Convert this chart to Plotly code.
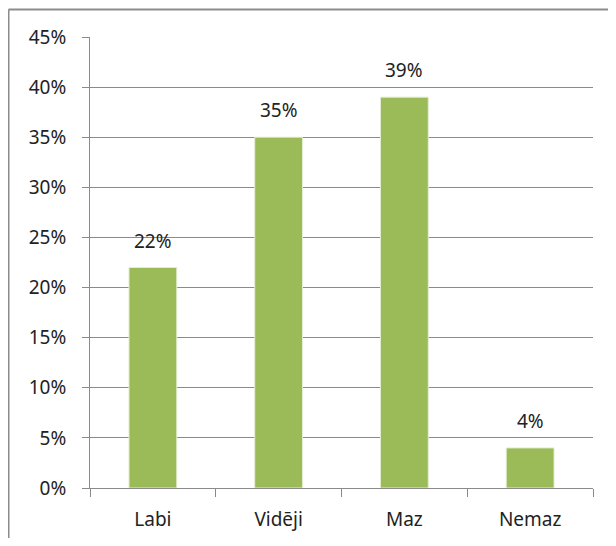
import plotly.graph_objects as go

categories = ["Labi", "Vidēji", "Maz", "Nemaz"]
values = [0.22, 0.35, 0.39, 0.04]
y_ticks = [0, 0.05, 0.10, 0.15, 0.20, 0.25, 0.30, 0.35, 0.40, 0.45]
y_labels = ["0%", "5%", "10%", "15%", "20%", "25%", "30%", "35%", "40%", "45%"]

font = "Noto Sans, DejaVu Sans, sans-serif"

fig = go.Figure(go.Bar(
    x=categories, y=values,
    marker=dict(color="#9BBB59", line=dict(color="#E4EDD2", width=1)),
    width=0.38,
))

# value labels over bars
for c, v in zip(categories, values):
    fig.add_annotation(x=c, y=v, text=f"{round(v * 100)}%", showarrow=False,
                       yanchor="bottom", yshift=12,
                       font=dict(family=font, size=19, color="#222"))

# outer chart frame (top and left edges visible in the crop)
fig.add_shape(type="line", xref="paper", yref="paper",
              x0=-0.162, x1=1.1, y0=1.061, y1=1.061,
              line=dict(color="#8c8c8c", width=2))
fig.add_shape(type="line", xref="paper", yref="paper",
              x0=-0.162, x1=-0.162, y0=1.061, y1=-0.2,
              line=dict(color="#8c8c8c", width=2))

# page body has an 8px margin, so the figure is sized to sit inside the window
fig.update_layout(
    width=600, height=530,
    margin=dict(l=82, r=15, t=29, b=50),
    paper_bgcolor="white", plot_bgcolor="white",
    showlegend=False,
    font=dict(family=font, size=19, color="#222"),
    bargap=0.62,
)
fig.update_yaxes(
    range=[0, 0.45], tickvals=y_ticks, ticktext=y_labels,
    showgrid=True, gridcolor="#8a8a8a", gridwidth=1,
    showline=True, linecolor="#8a8a8a", linewidth=1,
    ticks="outside", ticklen=7, tickcolor="#8a8a8a",
    ticklabelstandoff=12, zeroline=False, automargin=False,
)
fig.update_xaxes(
    showline=True, linecolor="#8a8a8a", linewidth=1,
    ticks="outside", tickson="boundaries", ticklen=8, tickcolor="#8a8a8a",
    ticklabelstandoff=14, automargin=False,
)

fig.write_html("out.html")
